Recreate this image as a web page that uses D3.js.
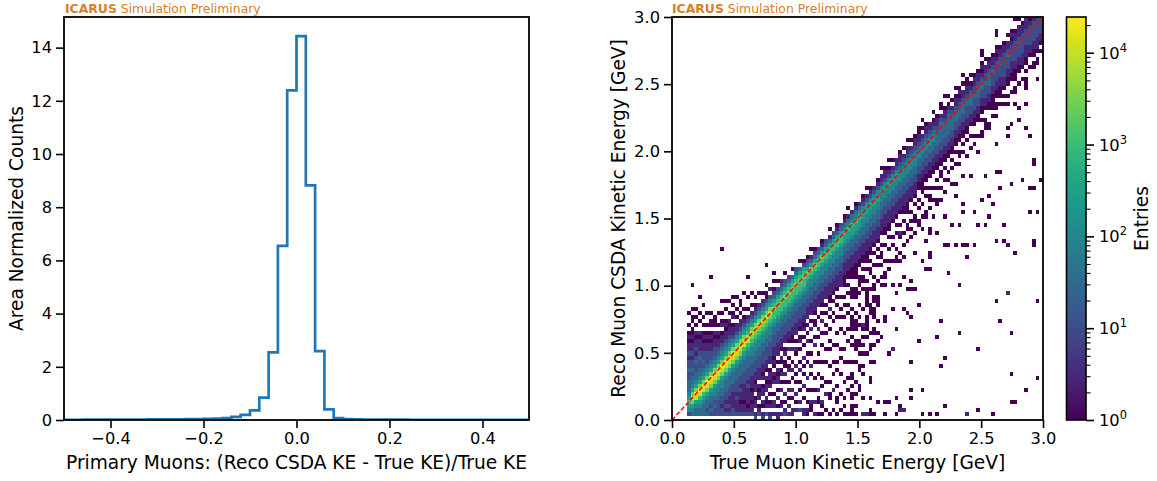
<!DOCTYPE html>
<html>
<head>
<meta charset="utf-8">
<script src="https://cdn.jsdelivr.net/npm/d3@7"></script>
<style>
  body { margin: 0; background: #fff; }
  svg { display: block; }
  text { font-family: "DejaVu Sans", "Liberation Sans", sans-serif; fill: #000; }
</style>
</head>
<body>
<svg id="fig" width="1157" height="481"></svg>
<script>
// ---------------- Left panel: fractional KE resolution ----------------
const residBinStart = -0.5;
const residBinWidth = 0.02;
// area-normalised density per bin, bins from -0.50 to +0.50
const residDensity = [
  0.010, 0.010, 0.011, 0.012, 0.012, 0.014, 0.015, 0.016, 0.018, 0.020,
  0.022, 0.024, 0.027, 0.030, 0.034, 0.045, 0.055, 0.075, 0.120, 0.190,
  0.360, 0.840, 2.540, 6.550, 12.39, 14.43, 8.820, 2.590, 0.400, 0.070,
  0.030, 0.022, 0.018, 0.015, 0.013, 0.012, 0.011, 0.010, 0.009, 0.009,
  0.008, 0.008, 0.007, 0.007, 0.006, 0.006, 0.006, 0.005, 0.005, 0.005
];
const residTicks = [-0.4, -0.2, 0.0, 0.2, 0.4];
const densityTicks = [0, 2, 4, 6, 8, 10, 12, 14];

// ---------------- Right panel: reco vs true KE (2D histogram) ----------------
const keBinWidth = 0.03;          // GeV
const keBinCount = 100;           // 0 - 3 GeV on both axes
const keTicks = [0.0, 0.5, 1.0, 1.5, 2.0, 2.5, 3.0];
// count represented by each level character '0'..'9'
const levelCounts = [1, 3, 10, 30, 100, 300, 1000, 3000, 10000, 22000];
const maxEntries = 24500;
const firstBandColumn = 4;
// One entry per true-KE column (starting at column 4). Text before '|' fills the
// reco bins just below the diagonal (bottom to top); text after '|' starts at
// the diagonal bin and goes upward. '.' marks an empty bin.
const columnBands = [
  ".245|654333223221211010.0..0",
  ".3457|875433232212110100.00.0",
  ".33458|9754332232121101.0.0.0",
  ".334568|975433223211101..0.0",
  ".3334568|97543232211010.0.0",
  ".32334578|9754322211010.0..0",
  ".232334578|975432211010.00",
  ".2232344578|97543221101.0.0",
  ".22223344578|9754321101.0..0",
  ".221223344578|975432110.10.0..0",
  ".2121223334578|97543211010..0.0",
  ".21211223334578|9754321101.0..0",
  ".221111223334578|97542110.10...0",
  ".2111212223334578|8754211.0.0..0",
  ".21101121223334578|8754211.0..0",
  ".211011112223334568|8754210.0...0",
  ".2101111212223334568|865421.0..0",
  "1.21101101112223344567|875421.0..0",
  "21.110.110112223344567|8754210.0",
  "1.210.1101.1112223344567|875421..0",
  "21.01.110.10112223344567|875421.0",
  "1.2.101.1101.0112223344567|87542.0.0",
  "21.10.0.10110.112223344567|87542.1",
  "1.11.0..101.01011222334566|765320.0",
  "11.0.1.0.1101.0.111222334566|76532.0",
  "1.10..1.0.10.01.011222334566|765321",
  "21.0.1..0.1.00.10.11222334566|76532.0",
  "1.1.0.1.0..10.0.1.011222334566|76532",
  "11..0.1..0.1.0..1.0011222334566|7653.0",
  "1.0.1..0.0.1..01.0.111222334566|76532",
  "2.1..0.0..1.0..0.10.011222334566|7653.0",
  "1..0..1..0.0.1..0.0.1011222334566|76520",
  "1.0..0..1...0.0..1.0.0.11122334456|75320",
  ".1..0...0.1..0..0..1.0.11122334456|7531.0",
  "1..0..0...0...1.0..00.011122334456|75320",
  ".0.1...0..0.0...0.1..0..11122334456|7532",
  "1...0.0...0...0..0..1.0.011122334456|75310",
  ".1..0....0..0...0.0..0.0.11122334456|6532",
  "0..0...0...0.0..0..0.1.0011122334456|6531.0",
  ".1...0..0...0.....0.0..0.011122334456|6532",
  "0..0...0.0...0..0...0..0.0.011122334456|65310",
  ".0....0...0.0....0..0.0..0..111122334456|6532",
  "0...0....0..0...0...0..0.0..0001112233455|64310",
  ".0..0...0....0..0...0.0..0.0.001112233455|6431.0",
  "0.0..0..0...0.0..0.0.0..0.0..0001112233455|6431",
  "0..0....0..0....00..0...0.0..0.001112233455|64310",
  ".0...0...0.0....0....0..0.0.0..001112233455|6431",
  "0.0.0..0...0....0..0.0.001112233445|54210",
  "0...0..0.0...0....0..0.0001112233445|5421.0",
  ".0...0....0.0...0...00.0.001112233445|54210",
  "0..0...0....0..0.0..0..0.01112233445|5421",
  ".0.0..0...0.0...0...0.0.0.01112233445|54210",
  ".0..0..0.0..0111223344|54211.0",
  "0..0...0..00111223344|542110",
  ".0.0..0..0.00111223344|54210.0",
  "0...0.0...0111223344|5421.0",
  ".0..0...0.0.0111223344|54211",
  "0...0..0..0111223344|432110",
  ".0..0..0.00111223344|4321.0",
  "0..0...0.0111223344|43211.0",
  ".0.0...0..0111223344|4321.0",
  "0...0..0.0111223344|432110",
  ".0..0.0..001122334|43211.0",
  "0..0..0.001122334|4321.0",
  ".0...0.0.001122334|432110",
  "0.0..0..001122334|43211",
  ".0..0...001122334|43210.0",
  "0..0.0..001122333|32110",
  ".0...0.001122333|3321.0",
  "0..0..0.001122333|32110",
  ".0.0...001122333|33210",
  "0...0.0.001122333|321.0",
  ".0..0.00112233|32110.0",
  "0..0..00112233|321010",
  ".0.0.00112233|3211.0",
  "0...0.00112223|321100",
  ".0..0..0112233|3210.0",
  "0.0..00112223|22110",
  ".0...00112233|32110",
  "0..0.0011223|321010",
  ".0.0..0112223|2211.0",
  "0...00112233|32110",
  ".0.0.0011222|32110",
  "0..0011222|221010",
  ".0..0011222|32110",
  "0.0.0112222|22110",
  ".0..0011222|3211.0",
  "0..0011122|221010",
  ".0.0.011222|22110",
  "0..0011222|32110",
  ".0..0111222|2211",
  "0.0.0011122|2211",
  ".0..011222|2210",
  "0.0011222|221",
  ".0..0111222|22",
  "0.011222|2"
];
// isolated bins away from the main band: [trueBin, recoBin, level]
const isolatedBins = [
  [13,42,0],[25,38,0],[10,35,0],[20,35,0],[27,36,0],[5,33,0],[7,30,0],[25,30,0],
  [8,28,0],[16,28,0],[18,28,0],[9,26,0],[10,26,0],[11,24,0],
  [35,1,1],[36,1,0],[37,2,0],[38,1,1],[39,1,0],[40,1,0],[41,2,0],[42,1,0],[44,1,0],
  [45,2,0],[46,1,0],[47,1,0],[37,3,0],[40,3,0],[43,2,0],[46,3,0],[39,4,0],[44,4,0],[42,5,0],
  [48,31,0],[49,31,0],[52,31,0],[54,32,0],[60,31,0],[63,32,0],[65,32,0],[90,31,1],
  [52,30,0],[54,30,0],[54,29,0],[55,29,0],[52,28,0],[55,28,0],[66,28,0],[87,29,0],[98,29,0],
  [53,27,0],[54,27,0],[53,26,0],[54,26,0],[59,27,0],[62,27,0],[63,26,0],[64,25,0],
  [48,25,0],[49,24,0],[48,24,0],[50,25,0],[52,25,0],[52,24,0],[57,25,0],[57,24,0],
  [72,24,0],[88,24,0],[51,23,1],[48,22,0],[51,22,0],[52,22,0],[54,22,0],[54,21,0],
  [60,22,0],[77,21,0],[91,21,0],[52,20,0],[56,20,0],[71,20,0],[49,19,0],[50,19,0],
  [49,18,0],[53,18,0],[54,18,0],[66,19,0],[82,17,0],[59,17,1],[58,16,0],[73,15,0],
  [53,14,0],[54,14,0],[64,14,0],[50,13,0],[51,13,0],[72,13,0],[51,11,0],[91,11,0],
  [48,10,0],[53,10,0],[53,9,0],[49,9,0],[98,10,0],[50,7,0],[64,7,0],[67,7,0],[95,7,0],
  [48,5,0],[51,5,0],[53,5,0],[60,5,0],[64,5,0],[55,4,0],[57,4,0],[58,4,0],[91,4,0],[92,4,0],
  [48,3,0],[49,3,0],[61,3,0],[73,3,0],[48,2,0],[53,2,0],[61,2,1],[62,2,1],[82,2,0],
  [48,1,0],[49,1,0],[51,1,1],[52,1,1],[53,1,0],[54,1,0],[57,1,0],[60,1,0],[67,1,0],
  [69,1,0],[71,1,0],[79,1,1],[86,1,0],
  [89,78,0],[92,78,0],[95,78,0],[93,77,0],[87,78,0],[84,73,0],[91,73,0],[90,72,0],
  [93,74,0],[95,72,0],[90,70,0],[96,70,0],[87,68,0],[82,66,0],[74,65,0],[77,65,0],
  [97,63,0],[97,64,0],[87,61,0],[88,61,0],[78,60,0],[80,60,0],[84,60,0],[99,59,0],
  [94,59,0],[72,60,0],[76,58,0],[91,58,0],[88,57,0],[96,57,0],[97,57,0],[67,57,0],
  [69,55,0],[72,54,0],[76,55,0],[83,54,0],[85,55,0],[86,53,0],[71,53,0],[78,53,0],
  [62,52,0],[63,52,0],[78,51,0],[81,51,0],[85,50,0],[96,51,0],[98,51,0],[64,49,0],
  [65,49,0],[68,50,0],[70,50,0],[73,50,0],[75,48,0],[77,48,0],[82,48,0],[84,48,0],
  [89,48,0],[66,48,0],[67,47,0],[69,47,0],[69,46,0],[71,46,0],[61,46,1],[63,48,0],
  [68,44,0],[73,43,0],[74,43,0],[76,43,0],[78,43,0],[79,43,0],[81,43,0],[87,44,0],
  [89,44,0],[90,43,0],[97,44,0],[97,43,0],[92,41,0],[79,40,0],[69,41,0],[69,40,0],
  [67,39,0],[62,40,0],[60,40,0],[61,39,0],[65,41,0],[48,39,0],[49,39,0],[50,39,0],
  [53,41,0],[56,40,0],[68,37,0],[69,37,0],[74,36,0],[49,38,0],[53,37,0],[57,35,0],
  [62,35,0],[64,34,0],[77,33,0],[48,35,0],[49,36,0],[50,34,0],[51,34,0],[56,33,0],
  [57,33,0],[59,33,0],[61,33,0],[52,32,0],[54,32,0],[64,32,0],[65,32,0],
  [87,96,0],[87,95,0],[83,91,0],[83,90,0],[78,85,0],[78,83,0],[76,82,0],[73,80,0],
  [74,80,0],[72,78,0],[70,76,0],[67,74,0],[65,70,0],[66,71,0],[98,84,0],[95,83,0],
  [95,82,0],[90,83,0],[92,81,0],[88,80,0],[86,78,0],[89,78,0],[90,78,0],[95,78,0],
  [85,77,0],[86,77,0],[83,76,0],[87,75,0],[85,73,0],[85,72,0],[77,70,0],[78,71,0],
  [83,70,0],[98,89,0],[97,87,0],[93,87,0],[92,85,0],[98,91,0],[97,92,0],[96,92,0],[98,94,0],
  [92,99,0],[93,99,0],[94,98,0],[93,97,1],[95,99,1],[96,99,0],[97,98,1],[99,97,0],[99,99,0]
];
const colorbarDecades = [0, 1, 2, 3, 4];

// ---------------- drawing ----------------
const svg = d3.select("#fig");
const tickFont = 16.3, labelFont = 18.6;
const tickLen = 8, tickPad = 4;
const brand = "#d7802a";

function drawBranding(x) {
  const t = svg.append("text").attr("x", x).attr("y", 12.5)
    .style("font-size", "12.4px").style("fill", brand);
  t.append("tspan").style("font-weight", "bold").style("fill", brand).text("ICARUS");
  t.append("tspan").style("fill", brand).text(" Simulation Preliminary");
}

function styleAxis(g) {
  g.selectAll(".domain").remove();
  g.selectAll(".tick line").attr("stroke", "#000").attr("stroke-width", 1.6);
  g.selectAll(".tick text").style("font-size", tickFont + "px")
    .style("font-family", "DejaVu Sans, sans-serif");
}

// ---- Left panel ----
const L = { x0: 64, x1: 529, y0: 17, y1: 420 };
const lx = d3.scaleLinear().domain([-0.5, 0.5]).range([L.x0, L.x1]);
const peak = d3.max(residDensity);
const ly = d3.scaleLinear().domain([0, peak * 1.05]).range([L.y1, L.y0]);

svg.append("clipPath").attr("id", "clipL").append("rect")
  .attr("x", L.x0).attr("y", L.y0).attr("width", L.x1 - L.x0).attr("height", L.y1 - L.y0);

const stepPts = [[residBinStart, 0]];
residDensity.forEach((v, k) => {
  const a = residBinStart + k * residBinWidth;
  stepPts.push([a, v], [a + residBinWidth, v]);
});
stepPts.push([residBinStart + residDensity.length * residBinWidth, 0]);
svg.append("path")
  .attr("clip-path", "url(#clipL)")
  .attr("d", d3.line().x(d => lx(d[0])).y(d => ly(d[1]))(stepPts))
  .attr("fill", "none").attr("stroke", "#1f77b4").attr("stroke-width", 2.7)
  .attr("stroke-linejoin", "miter");

svg.append("g").attr("transform", `translate(0,${L.y1})`)
  .call(d3.axisBottom(lx).tickValues(residTicks).tickFormat(d3.format(".1f"))
    .tickSize(tickLen).tickPadding(tickPad))
  .call(styleAxis);
svg.append("g").attr("transform", `translate(${L.x0},0)`)
  .call(d3.axisLeft(ly).tickValues(densityTicks).tickFormat(d3.format("d"))
    .tickSize(tickLen).tickPadding(tickPad))
  .call(styleAxis);
svg.append("rect").attr("x", L.x0).attr("y", L.y0)
  .attr("width", L.x1 - L.x0).attr("height", L.y1 - L.y0)
  .attr("fill", "none").attr("stroke", "#000").attr("stroke-width", 1.8);

svg.append("text").attr("x", (L.x0 + L.x1) / 2).attr("y", 469)
  .attr("text-anchor", "middle").style("font-size", labelFont + "px")
  .text("Primary Muons: (Reco CSDA KE - True KE)/True KE");
svg.append("text").attr("transform", `translate(23,${(L.y0 + L.y1) / 2}) rotate(-90)`)
  .attr("text-anchor", "middle").style("font-size", labelFont + "px")
  .text("Area Normalized Counts");
drawBranding(65);

// ---- Right panel ----
const R = { x0: 672, x1: 1043, y0: 17, y1: 420 };
const rx = d3.scaleLinear().domain([0, 3]).range([R.x0, R.x1]);
const ry = d3.scaleLinear().domain([0, 3]).range([R.y1, R.y0]);
const cnorm = d3.scaleLog().domain([1, maxEntries]).range([0, 1]).clamp(true);
const cmap = c => d3.interpolateViridis(cnorm(c));

const levels = new Map();
function setBin(i, j, ch) {
  if (ch === "." || j < 0 || j >= keBinCount || i < 0 || i >= keBinCount) return;
  const lv = +ch, key = i * keBinCount + j;
  if (!levels.has(key) || levels.get(key) < lv) levels.set(key, lv);
}
columnBands.forEach((s, k) => {
  const i = firstBandColumn + k;
  const [below, above] = s.split("|");
  for (let m = 0; m < below.length; m++) setBin(i, i - below.length + m, below[m]);
  for (let m = 0; m < above.length; m++) setBin(i, i + m, above[m]);
});
isolatedBins.forEach(([i, j, lv]) => setBin(i, j, String(lv)));

const cells = Array.from(levels, ([key, lv]) => ({
  i: Math.floor(key / keBinCount), j: key % keBinCount, count: levelCounts[lv]
}));

// bin edges snapped to whole pixels so neighbouring cells meet without seams
const ex = k => Math.round(rx(k * keBinWidth));
const ey = k => Math.round(ry(k * keBinWidth));
svg.append("clipPath").attr("id", "clipR").append("rect")
  .attr("x", R.x0).attr("y", R.y0).attr("width", R.x1 - R.x0).attr("height", R.y1 - R.y0);
svg.append("g").attr("clip-path", "url(#clipR)").attr("shape-rendering", "crispEdges")
  .selectAll("rect").data(cells).join("rect")
  .attr("x", d => ex(d.i))
  .attr("y", d => ey(d.j + 1))
  .attr("width", d => ex(d.i + 1) - ex(d.i))
  .attr("height", d => ey(d.j) - ey(d.j + 1))
  .attr("fill", d => cmap(d.count));

svg.append("line").attr("clip-path", "url(#clipR)")
  .attr("x1", rx(0)).attr("y1", ry(0)).attr("x2", rx(3)).attr("y2", ry(3))
  .attr("stroke", "#ff0000").attr("stroke-width", 1.5).attr("stroke-dasharray", "4.5,2.2");

svg.append("g").attr("transform", `translate(0,${R.y1})`)
  .call(d3.axisBottom(rx).tickValues(keTicks).tickFormat(d3.format(".1f"))
    .tickSize(tickLen).tickPadding(tickPad))
  .call(styleAxis);
svg.append("g").attr("transform", `translate(${R.x0},0)`)
  .call(d3.axisLeft(ry).tickValues(keTicks).tickFormat(d3.format(".1f"))
    .tickSize(tickLen).tickPadding(tickPad))
  .call(styleAxis);
svg.append("rect").attr("x", R.x0).attr("y", R.y0)
  .attr("width", R.x1 - R.x0).attr("height", R.y1 - R.y0)
  .attr("fill", "none").attr("stroke", "#000").attr("stroke-width", 1.8);

svg.append("text").attr("x", (R.x0 + R.x1) / 2).attr("y", 469)
  .attr("text-anchor", "middle").style("font-size", labelFont + "px")
  .text("True Muon Kinetic Energy [GeV]");
svg.append("text").attr("transform", `translate(625,${(R.y0 + R.y1) / 2}) rotate(-90)`)
  .attr("text-anchor", "middle").style("font-size", labelFont + "px")
  .text("Reco Muon CSDA Kinetic Energy [GeV]");
drawBranding(672);

// ---- Colour bar ----
const C = { x0: 1066.5, x1: 1086, y0: 17, y1: 420 };
const cy = d3.scaleLog().domain([1, maxEntries]).range([C.y1, C.y0]);
const grad = svg.append("defs").append("linearGradient").attr("id", "cbar")
  .attr("x1", 0).attr("y1", 1).attr("x2", 0).attr("y2", 0);
d3.range(0, 1.0001, 0.02).forEach(t => grad.append("stop")
  .attr("offset", t).attr("stop-color", d3.interpolateViridis(t)));
svg.append("rect").attr("x", C.x0).attr("y", C.y0)
  .attr("width", C.x1 - C.x0).attr("height", C.y1 - C.y0).attr("fill", "url(#cbar)");

const minorVals = [];
colorbarDecades.forEach(e => d3.range(2, 10).forEach(m => {
  const v = m * Math.pow(10, e);
  if (v < maxEntries) minorVals.push(v);
}));
const cbAxis = svg.append("g").attr("transform", `translate(${C.x1},0)`);
cbAxis.call(d3.axisRight(cy).tickValues(minorVals).tickSize(4.5).tickFormat(""));
cbAxis.selectAll(".domain").remove();
cbAxis.selectAll(".tick line").attr("stroke", "#000").attr("stroke-width", 1.1);
const cbMajor = svg.append("g").attr("transform", `translate(${C.x1},0)`);
cbMajor.call(d3.axisRight(cy).tickValues(colorbarDecades.map(e => Math.pow(10, e)))
  .tickSize(tickLen).tickFormat(""));
cbMajor.selectAll(".domain").remove();
cbMajor.selectAll(".tick line").attr("stroke", "#000").attr("stroke-width", 1.6);
colorbarDecades.forEach(e => {
  const t = svg.append("text").attr("x", C.x1 + 13).attr("y", cy(Math.pow(10, e)) + 6)
    .style("font-size", tickFont + "px");
  t.append("tspan").text("10");
  t.append("tspan").attr("dy", -7).style("font-size", "11.5px").text(String(e));
});
svg.append("rect").attr("x", C.x0).attr("y", C.y0)
  .attr("width", C.x1 - C.x0).attr("height", C.y1 - C.y0)
  .attr("fill", "none").attr("stroke", "#000").attr("stroke-width", 1.6);
svg.append("text").attr("transform", `translate(1148,${(C.y0 + C.y1) / 2}) rotate(-90)`)
  .attr("text-anchor", "middle").style("font-size", labelFont + "px")
  .text("Entries");
</script>
</body>
</html>
